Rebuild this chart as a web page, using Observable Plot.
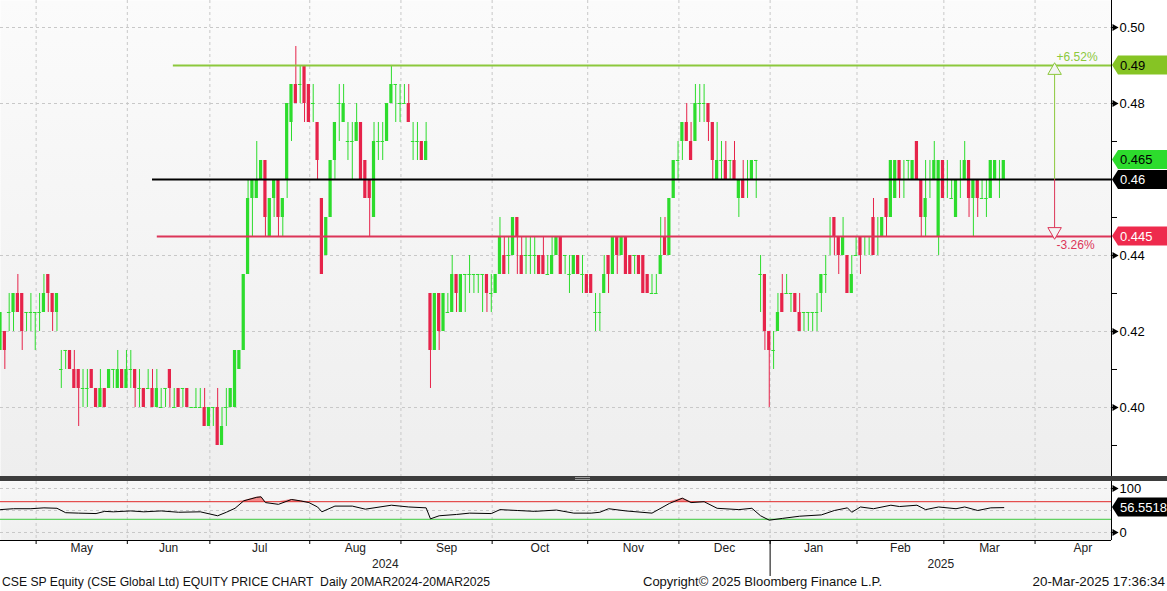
<!DOCTYPE html>
<html>
<head>
<meta charset="utf-8">
<script src="https://cdn.jsdelivr.net/npm/d3@7"></script>
<script src="https://cdn.jsdelivr.net/npm/@observablehq/plot@0.6"></script>
<style>
  html,body{margin:0;padding:0;background:#fff;}
  #wrap{position:relative;width:1167px;height:591px;overflow:hidden;font-family:"Liberation Sans",Arial,sans-serif;}
  #wrap svg{position:absolute;left:0;}
  .foot{position:absolute;top:575px;font-size:12px;color:#111;white-space:pre;line-height:14px;}
  #sep{position:absolute;left:0;top:476px;width:1167px;height:5px;background:#3d3d3d;}
  #grip{position:absolute;left:575px;top:477px;width:15px;height:3px;border-top:1px solid #9a9a9a;border-bottom:1px solid #9a9a9a;box-sizing:border-box;}
</style>
</head>
<body>
<div id="wrap"></div>
<script>
// ---------- DATA (daily OHLC, CSE SP, trading days from 18-Apr-2024 to 20-Mar-2025) ----------
const open = [
 .415,.42,.425,.425,.43,.43,.425,.425,.425,.425,.425,.435,.43,.425,
 .41,.415,.415,.41,.41,.405,.405,.41,.405,.40,.405,.405,.41,.405,.41,.405,
 .41,.41,.405,.405,.405,.405,.40,.40,.405,.41,.40,.405,.405,.405,.40,.40,
 .40,.40,.395,.40,.40,.39,.40,.40,.40,.41,.415,.435,
 .455,.455,.46,.465,.445,.455,.46,.45,.46,.475,.485,.485,.49,.485,.48,.475,.455,
 .44,.45,.465,.48,.475,.47,.47,.47,.475,.465,.46,.45,.47,.47,.47,.48,.485,.48,.48,.48,.47,.47,.47,.465,
 .43,.415,.43,.42,.425,.425,.435,.425,.435,.435,.435,.435,.435,.435,.43,.43,.435,.44,.44,.44,.45,.44,
 .44,.44,.44,.44,.44,.435,.435,.44,.445,.44,.435,.435,.44,.435,.435,.435,.425,.425,.43,.44,.435,.445,.44,.445,.44,.44,.44,.44,.435,.43,.43,
 .435,.445,.44,.455,.465,.47,.475,.47,.47,.48,.48,.48,.475,.46,.465,.465,.465,.465,.455,.46,.46,.46,.465,
 .435,.435,.42,.415,.42,.43,.43,.43,.43,.425,.425,.425,.425,.425,.43,.435,.445,.45,.445,.44,.44,.43,.44,.445,.445,.445,.45,.445,.445,.455,
 .45,.455,.465,.46,.465,.46,.47,.46,.45,.46,.46,.445,.465,.46,.455,.45,.46,.46,.465,.455,.46,.455,.455,.455,.46,.46,.46
];
const high = [
 .425,.42,.43,.43,.435,.43,.425,.43,.425,.43,.435,.435,.43,.43,
 .415,.415,.415,.415,.41,.41,.41,.41,.405,.41,.405,.41,.41,.415,.41,.415,
 .415,.41,.41,.405,.41,.41,.41,.405,.405,.41,.405,.405,.405,.405,.40,.405,
 .405,.405,.40,.40,.405,.40,.405,.405,.415,.415,.435,.46,
 .46,.47,.465,.465,.455,.46,.46,.455,.48,.485,.495,.49,.49,.485,.485,.475,.455,
 .45,.465,.475,.485,.485,.475,.475,.48,.475,.465,.46,.475,.475,.475,.48,.49,.485,.485,.485,.485,.475,.475,.47,.475,
 .43,.43,.43,.43,.43,.44,.435,.435,.435,.44,.435,.435,.435,.435,.435,.435,.45,.445,.445,.45,.45,.445,
 .445,.445,.445,.44,.445,.44,.445,.445,.445,.44,.44,.44,.44,.44,.435,.435,.43,.43,.44,.44,.445,.445,.445,.445,.44,.44,.44,.44,.435,.435,.435,
 .45,.45,.455,.465,.47,.475,.48,.475,.485,.485,.485,.48,.475,.475,.47,.47,.465,.47,.46,.465,.465,.465,.465,
 .44,.435,.42,.42,.43,.435,.435,.43,.43,.43,.425,.425,.425,.43,.435,.44,.45,.45,.445,.45,.44,.44,.445,.445,.445,.445,.455,.45,.45,.455,
 .465,.465,.465,.465,.465,.465,.47,.46,.465,.465,.47,.465,.465,.465,.46,.46,.465,.47,.465,.46,.46,.46,.46,.465,.465,.465,.465
];
const low = [
 .415,.41,.42,.42,.425,.415,.42,.42,.415,.42,.425,.425,.42,.42,
 .405,.41,.41,.405,.395,.40,.40,.405,.40,.40,.40,.405,.405,.405,.405,.405,
 .405,.40,.40,.40,.405,.40,.40,.40,.40,.40,.40,.40,.40,.40,.40,.40,
 .40,.395,.395,.395,.39,.39,.395,.40,.40,.41,.415,.435,
 .445,.455,.46,.445,.445,.45,.445,.445,.455,.47,.48,.48,.475,.475,.475,.46,.435,
 .44,.45,.46,.47,.475,.465,.46,.47,.46,.455,.445,.45,.465,.465,.47,.48,.475,.475,.48,.475,.465,.465,.465,.465,
 .405,.415,.415,.42,.425,.425,.425,.425,.425,.43,.43,.43,.425,.425,.425,.43,.435,.435,.435,.44,.435,.435,
 .435,.435,.435,.435,.435,.435,.435,.44,.435,.435,.43,.435,.435,.43,.43,.43,.42,.42,.43,.43,.435,.435,.44,.435,.435,.435,.435,.43,.43,.43,.43,
 .435,.44,.44,.455,.46,.465,.47,.465,.47,.475,.475,.47,.46,.46,.46,.46,.46,.46,.45,.455,.455,.46,.455,
 .425,.415,.40,.41,.42,.425,.43,.425,.425,.42,.42,.42,.42,.42,.425,.43,.44,.44,.435,.44,.43,.43,.44,.435,.44,.44,.44,.44,.445,.445,
 .45,.455,.455,.455,.46,.46,.46,.445,.445,.455,.46,.44,.455,.455,.455,.45,.455,.46,.45,.445,.45,.455,.45,.455,.46,.455,.46
];
const close = [
 .425,.415,.425,.43,.425,.42,.425,.425,.425,.425,.43,.43,.425,.43,
 .41,.415,.41,.405,.405,.405,.405,.405,.40,.405,.40,.41,.41,.41,.405,.41,
 .41,.405,.405,.40,.405,.40,.405,.40,.405,.405,.40,.40,.405,.40,.40,.40,
 .40,.395,.40,.40,.39,.395,.40,.405,.415,.415,.435,.455,
 .46,.46,.465,.45,.455,.46,.45,.455,.48,.485,.48,.485,.48,.475,.48,.465,.435,
 .45,.465,.475,.48,.48,.47,.47,.475,.46,.455,.455,.47,.47,.47,.48,.485,.485,.48,.48,.475,.47,.47,.465,.47,
 .415,.43,.42,.43,.425,.435,.43,.435,.435,.435,.435,.435,.435,.43,.43,.435,.445,.435,.44,.45,.445,.435,
 .44,.44,.44,.435,.435,.435,.44,.445,.435,.44,.435,.44,.435,.435,.43,.43,.425,.425,.435,.435,.445,.44,.445,.435,.435,.44,.435,.43,.43,.43,.43,
 .44,.44,.455,.465,.465,.475,.47,.465,.48,.48,.48,.475,.465,.465,.465,.46,.465,.46,.46,.455,.46,.465,.465,
 .435,.42,.415,.415,.425,.425,.43,.43,.425,.42,.425,.425,.425,.425,.435,.435,.445,.445,.44,.445,.43,.435,.44,.44,.445,.445,.44,.445,.45,.45,
 .465,.465,.46,.46,.465,.465,.46,.45,.455,.46,.465,.465,.455,.46,.455,.46,.46,.465,.455,.46,.455,.455,.455,.465,.465,.46,.465
];
// RSI(14) readings: candle position -> value
const rsiIdx = [0,3,7,10,13,15,18,22,24,26,30,33,37,41,46,50,52,54,56,59,60,61,64,67,69,71,73,74,77,81,84,86,90,94,98,99,101,105,108,113,115,119,123,128,132,136,138,140,144,150,154,157,159,162,165,170,173,175,177,180,184,189,192,195,196,198,201,205,207,211,213,216,220,222,225,228,231];
const rsiVal = [52,54,54,56,55,45,44,43,48,47,49,47,49,46,47,38,46,55,72,80,81,68,64,75,72,68,58,47,60,60,53,56,62,58,56,31,38,41,44,43,52,50,48,51,44,44,46,54,49,44,66,78,68,70,55,52,55,38,28,32,37,40,50,56,46,58,54,62,59,62,52,58,54,58,50,56,56.5518];
// Annotation levels
const levelValues = [0.49, 0.46, 0.445];
const levelStartIdx = [39.8, 35, 36.1];
const levelColors = ["#8cc83c", "#000000", "#dc3558"];
const arrowIdx = [242.7];
const axisMajor = [0.40, 0.42, 0.44, 0.48, 0.50];
const axisMinor = [0.39, 0.41, 0.43, 0.45, 0.47];
const rsiBands = [70, 30];
const rsiTicks = [0, 100];
const holidays = ["2024-05-01","2024-05-22","2024-06-17","2024-08-09","2024-10-31","2024-12-25","2025-01-01","2025-01-29","2025-01-30"];
const startDate = "2024-04-18";

// ---------- trading calendar (x = trading-day position, like Bloomberg) ----------
const hol = new Set(holidays);
const dates = [];
{ let d = new Date(startDate + "T00:00:00Z");
  while (dates.length < 263) {
    const wd = d.getUTCDay(), iso = d.toISOString().slice(0,10);
    if (wd !== 0 && wd !== 6 && !hol.has(iso)) dates.push(new Date(d));
    d.setUTCDate(d.getUTCDate() + 1);
  } }
const monthTicks = [], monthStartDates = [];
for (let i = 1; i < dates.length; i++)
  if (dates[i].getUTCMonth() !== dates[i-1].getUTCMonth()) { monthTicks.push(i - 0.8); monthStartDates.push(dates[i]); }
const xDom = [0, 255.8];
const monthLabels = [];
for (let k = 0; k + 1 < monthTicks.length; k++) {
  const m = (monthTicks[k] + monthTicks[k+1]) / 2;
  if (m < xDom[1]) monthLabels.push({x: m, t: d3.utcFormat("%b")(monthStartDates[k])});
}
const janIdx = monthStartDates.findIndex(d => d.getUTCMonth() === 0);
const janTick = monthTicks[janIdx];
const yearLabels = [{x: janTick / 2, t: String(monthStartDates[janIdx].getUTCFullYear() - 1)},
                    {x: (janTick + xDom[1]) / 2, t: String(monthStartDates[janIdx].getUTCFullYear())}];

const candles = open.map((o, i) => ({i, o, h: high[i], l: low[i], c: close[i]}));
const UP = "#2ddc2d", DOWN = "#e6234a";
const col = d => d.c < d.o ? DOWN : UP;
const bodies = candles.filter(d => d.c !== d.o);
const dojis = candles.filter(d => d.c === d.o);
const rsi = rsiIdx.map((i, k) => ({i, v: rsiVal[k]}));
const lastClose = close[close.length - 1];
const pivot = levelValues[1];
const pct = v => (v > pivot ? "+" : "") + ((v - pivot) / pivot * 100).toFixed(2) + "%";

const FONT = '"Liberation Sans", Arial, sans-serif';
const wrap = document.getElementById("wrap");

// ---------- price panel ----------
const yDom = [0.381842, 0.507105];
const A = Plot.plot({
  width: 1167, height: 476, marginTop: 0, marginBottom: 0, marginLeft: 0, marginRight: 56,
  x: {domain: xDom, axis: null},
  y: {domain: yDom, axis: null},
  color: {type: "identity"},
  style: {background: "transparent", fontFamily: FONT, color: "#000"},
  marks: [
    Plot.frame({fill: "#f4f4f4", stroke: "none"}),
    Plot.ruleY(axisMajor, {stroke: "#c8c8c8", strokeDasharray: "3,3"}),
    Plot.ruleX(monthTicks.filter(t => t < xDom[1]), {stroke: "#c8c8c8", strokeDasharray: "3,3"}),
    Plot.ruleX(candles, {x: "i", y1: "l", y2: "h", stroke: col, strokeWidth: 1}),
    Plot.rect(bodies, {x1: d => d.i - 0.37, x2: d => d.i + 0.37, y1: "o", y2: "c", fill: col}),
    Plot.ruleY(dojis, {y: "o", x1: d => d.i - 0.4, x2: d => d.i + 0.4, stroke: col}),
    Plot.ruleY(levelValues.map((v, k) => ({v, s: levelStartIdx[k], c: levelColors[k]})),
      {y: "v", x1: "s", x2: () => xDom[1], stroke: "c", strokeWidth: 2}),
    Plot.ruleX(arrowIdx, {y1: pivot, y2: levelValues[0], stroke: levelColors[0], strokeWidth: 1}),
    Plot.ruleX(arrowIdx, {y1: pivot, y2: levelValues[2], stroke: levelColors[2], strokeWidth: 1}),
    Plot.dot(arrowIdx, {x: d => d, y: () => levelValues[0], symbol: "triangle", r: 5, dy: 5, fill: "#f4f4f4", stroke: levelColors[0], strokeWidth: 1}),
    Plot.dot(arrowIdx, {x: d => d, y: () => levelValues[2], symbol: "triangle", r: 5, dy: -5, rotate: 180, fill: "#f4f4f4", stroke: levelColors[2], strokeWidth: 1}),
    Plot.text(arrowIdx, {x: d => d, y: () => levelValues[0], text: () => pct(levelValues[0]), dx: 2, dy: -8, textAnchor: "start", fill: levelColors[0], fontSize: 12}),
    Plot.text(arrowIdx, {x: d => d, y: () => levelValues[2], text: () => pct(levelValues[2]), dx: 2, dy: 9, textAnchor: "start", fill: levelColors[2], fontSize: 12}),
    Plot.ruleX([xDom[1]], {stroke: "#000", strokeWidth: 1}),
    Plot.axisY({anchor: "right", label: null, ticks: axisMajor, tickFormat: d => d.toFixed(2), tickSize: 6, tickPadding: 2, fontSize: 13, stroke: "#000", fill: "#000"}),
    Plot.axisY({anchor: "right", label: null, ticks: axisMinor, tickFormat: () => "", tickSize: 5, stroke: "#000"}),
    Plot.dot(axisMajor, {x: () => xDom[1], y: d => d, symbol: "triangle", r: 2.6, rotate: 90, dx: 3, fill: "#000"})
  ]
});
A.style.top = "0px";
wrap.appendChild(A);

function addGradient(svg, id, top, bottom) {
  const defs = d3.select(svg).insert("defs", ":first-child");
  const g = defs.append("linearGradient").attr("id", id).attr("x1", 0).attr("y1", 0).attr("x2", 0).attr("y2", 1);
  g.append("stop").attr("offset", "0%").attr("stop-color", top);
  g.append("stop").attr("offset", "100%").attr("stop-color", bottom);
  let f = svg.querySelector('[aria-label="frame"]');
  if (f && f.tagName.toLowerCase() !== "rect") f = f.querySelector("rect");
  if (f) f.setAttribute("fill", `url(#${id})`);
}
addGradient(A, "bgA", "#fbfbfb", "#eeeeee");

function tag(svg, y, label, bg, fg) {
  const g = d3.select(svg).append("g").attr("text-anchor", "start");
  const x0 = 1112, x1 = 1167, h = 9.5;
  g.append("path").attr("d", `M${x0},${y} L${x0 + 6},${y - h} H${x1} V${y + h} H${x0 + 6} Z`).attr("fill", bg);
  g.append("text").attr("x", x0 + 8).attr("y", y).attr("dy", "0.36em").attr("fill", fg)
    .attr("text-anchor", "start").attr("font-size", 13).attr("font-family", FONT).text(label);
}
const yA = A.scale("y");
tag(A, yA.apply(levelValues[0]), String(levelValues[0]), "#86c424", "#000");
tag(A, yA.apply(lastClose) - 0.5, String(lastClose), UP, "#000");
tag(A, yA.apply(levelValues[1]) + 0.5, String(levelValues[1]), "#000", "#fff");
tag(A, yA.apply(levelValues[2]), String(levelValues[2]), "#ee2a4d", "#fff");

// separator
const sep = document.createElement("div"); sep.id = "sep"; wrap.appendChild(sep);
const grip = document.createElement("div"); grip.id = "grip"; wrap.appendChild(grip);

// ---------- RSI panel + time axis ----------
const rsiDom = [-18.2, 115.9];
const B = Plot.plot({
  width: 1167, height: 97, marginTop: 0, marginBottom: 38, marginLeft: 0, marginRight: 56,
  x: {domain: xDom, axis: null},
  y: {domain: rsiDom, axis: null},
  style: {background: "transparent", fontFamily: FONT, color: "#000"},
  marks: [
    Plot.frame({fill: "#f2f2f2", stroke: "none"}),
    Plot.ruleY([0, 50, 100], {stroke: "#c8c8c8", strokeDasharray: "3,3"}),
    Plot.ruleX(monthTicks.filter(t => t < xDom[1]), {stroke: "#c8c8c8", strokeDasharray: "3,3"}),
    Plot.areaY(rsi, {x: "i", y1: () => rsiBands[0], y2: d => Math.max(d.v, rsiBands[0]), fill: "#f28a8a"}),
    Plot.areaY(rsi, {x: "i", y1: d => Math.min(d.v, rsiBands[1]), y2: () => rsiBands[1], fill: "#8fe08f"}),
    Plot.ruleY([rsiBands[0]], {stroke: "#e02828", strokeWidth: 1}),
    Plot.ruleY([rsiBands[1]], {stroke: "#3cc83c", strokeWidth: 1}),
    Plot.line(rsi, {x: "i", y: "v", stroke: "#000", strokeWidth: 1}),
    Plot.ruleX([xDom[1]], {stroke: "#000"}),
    Plot.ruleY([rsiDom[0]], {stroke: "#000"}),
    Plot.axisY({anchor: "right", label: null, ticks: rsiTicks, tickFormat: d => String(d), tickSize: 6, tickPadding: 2, fontSize: 13}),
    Plot.dot(rsiTicks, {x: () => xDom[1], y: d => d, symbol: "triangle", r: 2.6, rotate: 90, dx: 3, fill: "#000"}),
    Plot.axisX({label: null, ticks: monthTicks.filter(t => t < xDom[1]), tickFormat: () => "", tickSize: 4}),
    Plot.axisX({label: null, ticks: [janTick], tickFormat: () => "", tickSize: 36}),
    Plot.text(monthLabels, {x: "x", text: "t", frameAnchor: "bottom", lineAnchor: "top", dy: 3, fontSize: 12, fill: "#222"}),
    Plot.text(yearLabels, {x: "x", text: "t", frameAnchor: "bottom", lineAnchor: "top", dy: 19, fontSize: 12, fill: "#222"})
  ]
});
B.style.top = "481px";
wrap.appendChild(B);
addGradient(B, "bgB", "#f7f7f7", "#efefef");
const yB = B.scale("y");
tag(B, yB.apply(rsiVal[rsiVal.length - 1]), String(rsiVal[rsiVal.length - 1]), "#000", "#fff");

// ---------- footer ----------
function foot(text, style) {
  const d = document.createElement("div"); d.className = "foot"; d.textContent = text;
  Object.assign(d.style, style); wrap.appendChild(d);
}
foot("CSE SP Equity (CSE Global Ltd) EQUITY PRICE CHART  Daily 20MAR2024-20MAR2025", {left: "2px", fontSize: "12.2px"});
foot("Copyright\u00A9 2025 Bloomberg Finance L.P.", {left: "643px", fontSize: "13px"});
foot("20-Mar-2025 17:36:34", {right: "2px", fontSize: "13.4px"});
</script>
</body>
</html>
